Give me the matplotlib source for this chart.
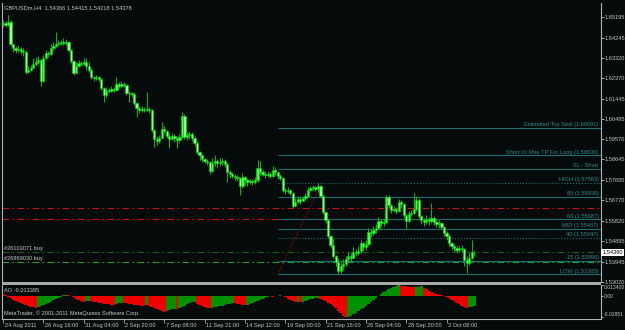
import matplotlib
matplotlib.use("Agg")
import matplotlib.pyplot as plt
from matplotlib.patches import Rectangle

plt.rcParams['font.family'] = ['Liberation Sans', 'DejaVu Sans']

# GBPUSDm H4 bars, 24 Aug 2011 .. 4 Oct 2011
first_open = 1.6488
closes = [1.6492, 1.6483, 1.6497, 1.6396, 1.6377, 1.6368, 1.6373, 1.6363, 1.6359, 1.6267,
          1.6276, 1.6285, 1.6304, 1.6313, 1.6322, 1.6225, 1.6331, 1.6354, 1.6350, 1.6377,
          1.6386, 1.6396, 1.6400, 1.6405, 1.6400, 1.6405, 1.6368, 1.6317, 1.6262, 1.6294,
          1.6308, 1.6304, 1.6313, 1.6294, 1.6276, 1.6244, 1.6239, 1.6244, 1.6235, 1.6193,
          1.6161, 1.6184, 1.6179, 1.6189, 1.6184, 1.6212, 1.6202, 1.6212, 1.6207, 1.6170,
          1.6170, 1.6166, 1.6124, 1.6101, 1.6092, 1.6097, 1.6092, 1.6097, 1.6092, 1.6000,
          1.5959, 1.5949, 1.5963, 1.6005, 1.5995, 1.5972, 1.5959, 1.5972, 1.5963, 1.5954,
          1.5968, 1.6064, 1.5968, 1.5977, 1.5982, 1.5963, 1.5940, 1.5899, 1.5885, 1.5867,
          1.5857, 1.5853, 1.5811, 1.5848, 1.5857, 1.5848, 1.5853, 1.5857, 1.5844, 1.5807,
          1.5798, 1.5788, 1.5784, 1.5779, 1.5742, 1.5784, 1.5770, 1.5761, 1.5765, 1.5761,
          1.5770, 1.5825, 1.5807, 1.5798, 1.5793, 1.5798, 1.5788, 1.5816, 1.5807, 1.5788,
          1.5779, 1.5724, 1.5719, 1.5724, 1.5710, 1.5650, 1.5669, 1.5683, 1.5673, 1.5687,
          1.5696, 1.5724, 1.5733, 1.5738, 1.5729, 1.5742, 1.5696, 1.5623, 1.5586, 1.5512,
          1.5471, 1.5420, 1.5393, 1.5351, 1.5374, 1.5384, 1.5407, 1.5420, 1.5411, 1.5439,
          1.5434, 1.5443, 1.5480, 1.5462, 1.5476, 1.5531, 1.5526, 1.5540, 1.5549, 1.5581,
          1.5572, 1.5577, 1.5692, 1.5655, 1.5632, 1.5637, 1.5627, 1.5669, 1.5660, 1.5609,
          1.5581, 1.5614, 1.5618, 1.5637, 1.5678, 1.5604, 1.5586, 1.5577, 1.5591, 1.5581,
          1.5595, 1.5577, 1.5568, 1.5572, 1.5554, 1.5526, 1.5512, 1.5480, 1.5466, 1.5457,
          1.5448, 1.5457, 1.5453, 1.5402, 1.5388, 1.5411, 1.5437, 1.5438]
highs = [1.6506, 1.6501, 1.6529, 1.6506, 1.6396, 1.6386, 1.6391, 1.6382, 1.6377, 1.6368,
         1.6294, 1.6299, 1.6331, 1.6336, 1.6340, 1.6327, 1.6345, 1.6368, 1.6363, 1.6396,
         1.6405, 1.6451, 1.6414, 1.6414, 1.6423, 1.6419, 1.6409, 1.6373, 1.6322, 1.6313,
         1.6322, 1.6317, 1.6331, 1.6331, 1.6313, 1.6285, 1.6248, 1.6253, 1.6248, 1.6239,
         1.6198, 1.6198, 1.6193, 1.6202, 1.6198, 1.6244, 1.6221, 1.6225, 1.6221, 1.6207,
         1.6179, 1.6175, 1.6175, 1.6129, 1.6110, 1.6110, 1.6106, 1.6175, 1.6106, 1.6097,
         1.6005, 1.5972, 1.5977, 1.6037, 1.6018, 1.6000, 1.5986, 1.5986, 1.5982, 1.5972,
         1.5982, 1.6083, 1.6074, 1.5991, 1.5995, 1.5991, 1.5972, 1.5949, 1.5903, 1.5890,
         1.5871, 1.5867, 1.5857, 1.5871, 1.5885, 1.5867, 1.5871, 1.5871, 1.5867, 1.5848,
         1.5816, 1.5807, 1.5798, 1.5793, 1.5784, 1.5802, 1.5788, 1.5779, 1.5775, 1.5775,
         1.5784, 1.5862, 1.5857, 1.5816, 1.5811, 1.5811, 1.5807, 1.5834, 1.5830, 1.5807,
         1.5798, 1.5784, 1.5733, 1.5738, 1.5729, 1.5715, 1.5687, 1.5696, 1.5692, 1.5696,
         1.5710, 1.5738, 1.5742, 1.5747, 1.5742, 1.5756, 1.5747, 1.5706, 1.5623, 1.5591,
         1.5517, 1.5503, 1.5425, 1.5411, 1.5393, 1.5407, 1.5420, 1.5439, 1.5434, 1.5462,
         1.5453, 1.5466, 1.5494, 1.5485, 1.5494, 1.5549, 1.5545, 1.5558, 1.5568, 1.5600,
         1.5591, 1.5591, 1.5701, 1.5701, 1.5660, 1.5650, 1.5646, 1.5683, 1.5678, 1.5664,
         1.5614, 1.5627, 1.5632, 1.5710, 1.5696, 1.5687, 1.5609, 1.5595, 1.5609, 1.5600,
         1.5664, 1.5604, 1.5591, 1.5586, 1.5577, 1.5558, 1.5535, 1.5522, 1.5485, 1.5476,
         1.5466, 1.5471, 1.5471, 1.5457, 1.5420, 1.5434, 1.5494, 1.5442]
lows = [1.6474, 1.6474, 1.6478, 1.6386, 1.6359, 1.6354, 1.6359, 1.6350, 1.6340, 1.6258,
        1.6262, 1.6271, 1.6285, 1.6294, 1.6304, 1.6202, 1.6221, 1.6327, 1.6336, 1.6345,
        1.6368, 1.6382, 1.6386, 1.6391, 1.6391, 1.6391, 1.6359, 1.6308, 1.6253, 1.6267,
        1.6290, 1.6294, 1.6299, 1.6276, 1.6267, 1.6235, 1.6225, 1.6230, 1.6225, 1.6184,
        1.6129, 1.6152, 1.6170, 1.6175, 1.6175, 1.6184, 1.6193, 1.6198, 1.6198, 1.6161,
        1.6129, 1.6152, 1.6115, 1.6060, 1.6078, 1.6083, 1.6083, 1.6087, 1.6078, 1.5991,
        1.5922, 1.5931, 1.5940, 1.5963, 1.5982, 1.5963, 1.5917, 1.5954, 1.5945, 1.5917,
        1.5940, 1.5963, 1.5959, 1.5954, 1.5959, 1.5949, 1.5926, 1.5890, 1.5862, 1.5853,
        1.5848, 1.5839, 1.5798, 1.5807, 1.5834, 1.5825, 1.5834, 1.5839, 1.5830, 1.5761,
        1.5779, 1.5779, 1.5770, 1.5765, 1.5701, 1.5733, 1.5747, 1.5742, 1.5752, 1.5747,
        1.5752, 1.5761, 1.5793, 1.5788, 1.5779, 1.5784, 1.5779, 1.5784, 1.5793, 1.5775,
        1.5770, 1.5715, 1.5706, 1.5710, 1.5701, 1.5641, 1.5650, 1.5664, 1.5660, 1.5673,
        1.5678, 1.5692, 1.5719, 1.5724, 1.5719, 1.5715, 1.5687, 1.5614, 1.5572, 1.5503,
        1.5457, 1.5411, 1.5374, 1.5337, 1.5342, 1.5356, 1.5374, 1.5393, 1.5397, 1.5420,
        1.5420, 1.5425, 1.5434, 1.5443, 1.5448, 1.5466, 1.5508, 1.5517, 1.5526, 1.5545,
        1.5558, 1.5558, 1.5568, 1.5641, 1.5618, 1.5623, 1.5614, 1.5623, 1.5641, 1.5595,
        1.5545, 1.5577, 1.5604, 1.5614, 1.5627, 1.5595, 1.5568, 1.5558, 1.5568, 1.5563,
        1.5572, 1.5563, 1.5554, 1.5549, 1.5545, 1.5512, 1.5494, 1.5466, 1.5453, 1.5443,
        1.5434, 1.5439, 1.5439, 1.5374, 1.5342, 1.5379, 1.5407, 1.5422]

# Awesome Oscillator values
ao_vals = [0.0020, 0.0003, -0.0017, -0.0035, -0.0052, -0.0069, -0.0085, -0.0098, -0.0111, -0.0124,
           -0.0134, -0.0143, -0.0152, -0.0160, -0.0150, -0.0137, -0.0124, -0.0111, -0.0095, -0.0078,
           -0.0062, -0.0046, -0.0030, -0.0013, 0.0004, 0.0013, 0.0009, -0.0007, -0.0023, -0.0039,
           -0.0055, -0.0069, -0.0082, -0.0074, -0.0069, -0.0075, -0.0082, -0.0088, -0.0095, -0.0100,
           -0.0105, -0.0111, -0.0114, -0.0118, -0.0121, -0.0113, -0.0101, -0.0091, -0.0095, -0.0101,
           -0.0107, -0.0112, -0.0117, -0.0122, -0.0126, -0.0130, -0.0134, -0.0127, -0.0131, -0.0143,
           -0.0157, -0.0172, -0.0185, -0.0196, -0.0208, -0.0202, -0.0191, -0.0179, -0.0169, -0.0174,
           -0.0163, -0.0147, -0.0130, -0.0114, -0.0100, -0.0088, -0.0085, -0.0104, -0.0124, -0.0137,
           -0.0150, -0.0159, -0.0165, -0.0160, -0.0153, -0.0147, -0.0139, -0.0131, -0.0124, -0.0114,
           -0.0105, -0.0098, -0.0103, -0.0109, -0.0116, -0.0121, -0.0125, -0.0117, -0.0104, -0.0091,
           -0.0078, -0.0065, -0.0052, -0.0040, -0.0029, -0.0017, -0.0009, -0.0013, -0.0007, -0.0001,
           0.0003, -0.0009, -0.0025, -0.0040, -0.0056, -0.0072, -0.0085, -0.0079, -0.0090, -0.0082,
           -0.0072, -0.0061, -0.0051, -0.0042, -0.0034, -0.0030, -0.0040, -0.0056, -0.0073, -0.0092,
           -0.0114, -0.0139, -0.0166, -0.0196, -0.0228, -0.0260, -0.0285, -0.0277, -0.0261, -0.0243,
           -0.0224, -0.0203, -0.0181, -0.0157, -0.0133, -0.0108, -0.0082, -0.0056, -0.0030, -0.0005,
           0.0018, 0.0042, 0.0064, 0.0082, 0.0098, 0.0116, 0.0127, 0.0134, 0.0129, 0.0124,
           0.0119, 0.0114, 0.0110, 0.0106, 0.0111, 0.0116, 0.0119, 0.0100, 0.0081, 0.0061,
           0.0042, 0.0029, 0.0020, 0.0012, 0.0003, -0.0007, -0.0017, -0.0033, -0.0052, -0.0072,
           -0.0091, -0.0111, -0.0130, -0.0147, -0.0160, -0.0153, -0.0148, -0.013395]

date_ticks = [0, 16, 32, 48, 64, 80, 96, 112, 128, 144, 160, 176]
date_labels = ['24 Aug 2011', '26 Aug 16:00', '31 Aug 04:00', '2 Sep 20:00', '7 Sep 08:00',
               '11 Sep 21:00', '14 Sep 12:00', '19 Sep 00:00', '21 Sep 16:00', '26 Sep 04:00',
               '28 Sep 20:00', '3 Oct 08:00']
price_ticks = [1.65195, 1.64245, 1.63320, 1.62370, 1.61445, 1.60495, 1.59570, 1.58645,
               1.57695, 1.56770, 1.55820, 1.54895, 1.53945, 1.53020]
ao_ticks = [0.0134, 0.0, -0.0285]
ao_tick_labels = ['0.013400', '0.00', '-0.02851']

# fibo object (anchored low -> high)
fib_low, fib_high = 1.53365, 1.57563
fib_bar_low, fib_bar_high = 109, 126.5
fib_prices = [1.60091, 1.58830, 1.58206, 1.57563, 1.56938, 1.55887, 1.55467, 1.55047, 1.53996, 1.53365]
fib_texts = ['Estimated Top Seal (1.60091)', 'Short Or Max TP For Long (1.58830)', 'SL - Short',
             'HIGH (1.57563)', '85 (1.56938)', '60 (1.55887)', 'MID (1.55467)', '40 (1.55047)',
             '15 (1.53996)', 'LOW (1.53365)']
fib_styles = ['-', '-', '-', ':', '-', '-', '-', ':', '-', '-']

red_levels = [1.5641, 1.5591]
buy_levels = [1.5439, 1.5393]
buy_texts = ['#26103071 buy', '#26969030 buy']
buy_colors = ['#11661a', '#22a022']

bg = '#050a0a'
fg = '#c8c8c8'
teal = '#1a7070'
W, H = 625, 330
fs = 4.1


def box(x0, y0, x1, y1):
    return [x0 / W, 1 - y1 / H, (x1 - x0) / W, (y1 - y0) / H]


fig = plt.figure(figsize=(6.25, 3.3), dpi=100, facecolor=bg)
ax = fig.add_axes(box(2, 3, 601, 282), facecolor=bg)
ao = fig.add_axes(box(2, 284.5, 601, 319), facecolor=bg)

n = len(closes)
xs = list(range(n))
opens = [first_open] + closes[:-1]

# candles
for i in xs:
    o, c = opens[i], closes[i]
    hi = max(highs[i], o, c)
    lo = min(lows[i], o, c)
    bull = c >= o
    ax.vlines(i, lo, hi, color='#00c000', lw=0.7, zorder=3)
    ax.bar(i, max(abs(c - o), 0.0001), bottom=min(o, c), width=0.9,
           color='#44ff44' if bull else '#8cff8c', edgecolor='#00d000', lw=0.4, zorder=4)

xmin, xmax = -0.4, 237.3
ax.set_xlim(xmin, xmax)
ax.set_ylim(1.53008, 1.65842)

# order / stop lines
for p in red_levels:
    ax.axhline(p, color='#cc1010', lw=0.8, ls=(0, (6, 3, 1.5, 3)), zorder=1)
for p, t, c in zip(buy_levels, buy_texts, buy_colors):
    ax.axhline(p, color=c, lw=0.8, ls=(0, (6, 3, 1.5, 3)), zorder=1)
    ax.text(xmin + 0.8, p + 0.0003, t, color=fg, fontsize=fs, va='bottom', ha='left')

# fibo lines
for p, t, s in zip(fib_prices, fib_texts, fib_styles):
    ax.hlines(p, fib_bar_low, xmax, color=teal, lw=0.8, ls=s, zorder=2)
    ax.text(0.996, p + 0.00025, t, transform=ax.get_yaxis_transform(), color='#2a8c8c',
            fontsize=fs, ha='right', va='bottom')
ax.plot([fib_bar_low, fib_bar_high], [fib_low, fib_high], color='#b01010', lw=0.8,
        ls=(0, (1, 1.6)), zorder=2)

# price scale
ax.yaxis.tick_right()
ax.set_yticks(price_ticks)
ax.set_yticklabels(['%.5f' % v for v in price_ticks])
ax.tick_params(axis='y', colors=fg, labelsize=fs, length=2, width=0.6, pad=0.6)
ax.set_xticks([])
for side in ['top', 'bottom']:
    ax.spines[side].set_visible(False)
for side in ['left', 'right']:
    ax.spines[side].set_color('#b0b0b0')
    ax.spines[side].set_linewidth(0.8)

ax.text(1.002, closes[-1], '%.5f' % closes[-1], transform=ax.get_yaxis_transform(),
        color='black', fontsize=fs, va='center', ha='left',
        bbox=dict(facecolor='white', edgecolor='none', pad=0.8))

fig.text(4 / W, 1 - 7.5 / H, 'GBPUSDm,H4  1.54366 1.54415 1.54218 1.54378', color=fg,
         fontsize=fs, va='center', ha='left')

# panel separator
fig.patches.append(Rectangle((2 / W, 1 - 284.5 / H), 599 / W, 2.5 / H, transform=fig.transFigure,
                             facecolor='#a8a8a8', edgecolor='none'))

# AO histogram
ao_colors = ['#ee0000'] + ['#009000' if ao_vals[i] > ao_vals[i - 1] else '#ee0000' for i in range(1, n)]
ao.bar(xs, ao_vals, width=1.0, color=ao_colors, lw=0)
ao.set_xlim(xmin, xmax)
ao.set_ylim(-0.03055, 0.0143)
ao.yaxis.tick_right()
ao.set_yticks(ao_ticks)
ao.set_yticklabels(ao_tick_labels)
ao.tick_params(axis='y', colors=fg, labelsize=3.6, length=1.5, width=0.6, pad=0.4)
tl = ao.get_yticklabels()
tl[0].set_va('top')
tl[2].set_va('bottom')
ao.set_xticks(date_ticks)
ao.set_xticklabels([])
ao.tick_params(axis='x', colors='#b0b0b0', length=3, width=0.6)
for i, lab in zip(date_ticks, date_labels):
    ao.text(i + 0.6, -0.18, lab, transform=ao.get_xaxis_transform(), color=fg,
            fontsize=fs, ha='left', va='center')
ao.spines['top'].set_visible(False)
for side in ['left', 'right', 'bottom']:
    ao.spines[side].set_color('#b0b0b0')
    ao.spines[side].set_linewidth(0.8)

ao.text(0.004, 0.83, 'AO -0.013395', transform=ao.transAxes, color=fg, fontsize=fs,
        ha='left', va='center')
ao.text(0.004, 0.17, 'MetaTrader, \u00a9 2001-2011 MetaQuotes Software Corp.', transform=ao.transAxes,
        color=fg, fontsize=fs, ha='left', va='center', zorder=5)

fig.savefig('out.png', dpi=100, facecolor=bg)
